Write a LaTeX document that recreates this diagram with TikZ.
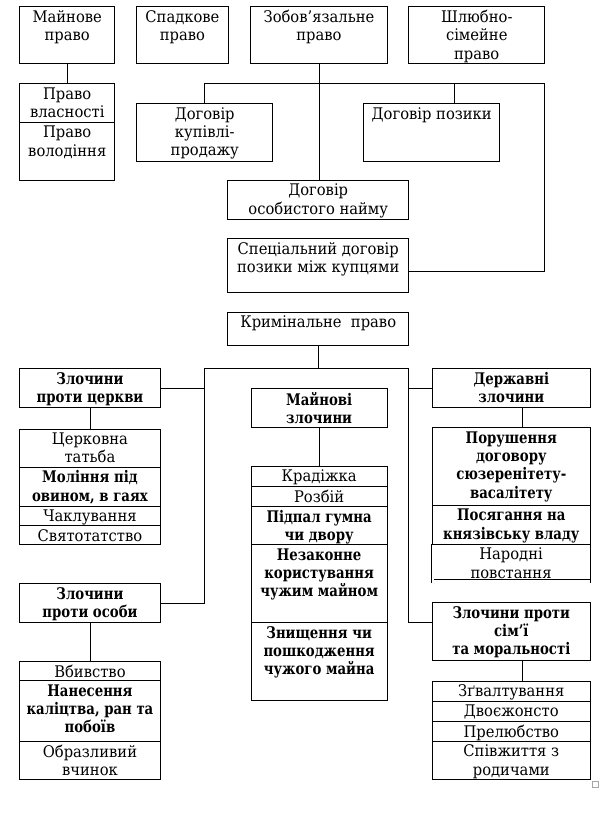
\documentclass[tikz,border=0pt]{standalone}
\usepackage{fontspec}
\setmainfont{DejaVu Serif}[FakeStretch=0.92,BoldFeatures={FakeStretch=0.83}]
\begin{document}
\begin{tikzpicture}[x=1pt,y=-1pt,
  bxs/.style={draw,line width=0.9pt,inner sep=0pt,anchor=north west},
  txt/.style={inner sep=0pt,anchor=north,align=center,font=\fontsize{16}{18.3}\selectfont},
  btxt/.style={txt,font=\fontsize{16}{18.3}\selectfont\bfseries},
  ln/.style={line width=0.9pt}]
\useasboundingbox (0,0) rectangle (604,831);
\newcommand\bx[7][txt]{%
  \node[bxs,minimum width={#5-#3},minimum height={#6-#4}] (#2) at (#3,#4) {};
  \node[#1] at ([yshift=-4pt]#2.north) {#7};}
% civil law
\bx{m}{19.3}{6}{114.3}{63}{Майнове\\право}
\bx{s}{136.3}{6}{227.7}{63}{Спадкове\\право}
\bx{z}{250.3}{6}{386.7}{63}{Зобов’язальне\\право}
\bx{sh}{408.3}{6}{544.3}{63}{Шлюбно-\\сімейне\\право}
\bx{pv}{19.3}{83.3}{114.3}{122}{Право\\власності}
\bx{pw}{19.3}{122}{114.3}{180.3}{Право\\володіння}
\bx{kup}{136.3}{103.3}{272.3}{161.3}{Договір\\купівлі-\\продажу}
\bx{poz}{363.3}{103.3}{499.3}{161.3}{Договір позики}
\bx{on}{227.3}{180}{408.3}{219.3}{Договір\\особистого найму}
\bx{sp}{227.3}{238.3}{408.3}{292.3}{Спеціальний договір\\позики між купцями}
\bx{kr}{227.3}{311.7}{408.3}{345}{Кримінальне\ \ право}
% church
\bx[btxt]{zc}{19.3}{368.3}{159.7}{407.3}{Злочини\\проти церкви}
\bx{c1}{19.3}{428.5}{159.7}{466.5}{Церковна\\татьба}
\bx[btxt]{c2}{19.3}{466.5}{159.7}{506}{Моління під\\овином, в гаях}
\bx{c3}{19.3}{506}{159.7}{525}{Чаклування}
\bx{c4}{19.3}{525}{159.7}{544.3}{Святотатство}
% property
\bx[btxt]{mz}{250.7}{388.3}{386.7}{427.3}{Майнові\\злочини}
\bx{p1}{250.7}{466}{386.7}{485.7}{Крадіжка}
\bx{p2}{250.7}{485.7}{386.7}{505.7}{Розбій}
\bx[btxt]{p3}{250.7}{505.7}{386.7}{544.3}{Підпал гумна\\чи двору}
\bx[btxt]{p4}{250.7}{544.3}{386.7}{622.3}{Незаконне\\користування\\чужим майном}
\bx[btxt]{p5}{250.7}{622.3}{386.7}{700}{Знищення чи\\пошкодження\\чужого майна}
% state
\bx[btxt]{dz}{431.7}{368.3}{590}{407.3}{Державні\\злочини}
\bx[btxt]{d1}{431.7}{427.3}{590}{505}{Порушення\\договору\\сюзеренітету-\\васалітету}
\bx[btxt]{d2}{431.7}{505}{590}{544}{Посягання на\\князівську владу}
\node[inner sep=0pt,anchor=north west,minimum width={590-431.7},minimum height={579.3-544}] (d3) at (431.7,544) {};
\node[txt] at ([yshift=-4pt]d3.north) {Народні\\повстання};
\draw[ln] (d3.north west) -- ++(0,38.7);
\draw[ln] (d3.north east) -- ++(0,38.7);
\draw[ln] ([xshift=2.5pt]d3.south west) -- ([xshift=0.7pt]d3.south east);
% family
\bx[btxt]{zs}{431.7}{602.3}{590}{660}{Злочини проти\\сім'ї\\та моральності}
\bx{f1}{431.7}{680.7}{590}{700.7}{Зґвалтування}
\bx{f2}{431.7}{700.7}{590}{720.7}{Двоєжонсто}
\bx{f3}{431.7}{720.7}{590}{740.7}{Прелюбство}
\bx{f4}{431.7}{740.7}{590}{779}{Співжиття з\\родичами}
% person
\bx[btxt]{zo}{19.3}{583.3}{159.7}{622}{Злочини\\проти особи}
\bx{o1}{19.3}{660.7}{159.7}{680.3}{Вбивство}
\bx[btxt]{o2}{19.3}{680.3}{159.7}{740.7}{Нанесення\\каліцтва, ран та\\побоїв}
\bx{o3}{19.3}{740.7}{159.7}{779}{Образливий\\вчинок}
% small anchor square
\node[draw=gray!70,line width=0.5pt,inner sep=0pt,minimum size=6.5pt,anchor=north west] (sq) at (591.7,780.7) {};
% connectors civil
\draw[ln] (m.south) -- (pv.north);
\draw[ln] (z.south) -- (z.south |- on.north);
\coordinate (jr) at (544.3,83.3);
\coordinate (jb) at (544.3,271.7);
\coordinate (jp) at (454.3,83.3);
\draw[ln] (kup.north) |- (jr) -- (jb) -- (sp.east |- jb);
\draw[ln] (jp) -- (jp |- poz.north);
% connectors criminal
\coordinate (jl) at (204.3,368.3);
\coordinate (jrr) at (408.3,368.3);
\coordinate (jsb) at (408.3,622.3);
\draw[ln] (kr.south) -- (kr.south |- jl);
\draw[ln] (zo.east) -| (jl) -- (jrr) -- (jsb) -- (jsb -| zs.west);
\draw[ln] (zc.east) -- (zc.east -| jl);
\draw[ln] (dz.west) -- (dz.west -| jrr);
\draw[ln] (zc.south) -- (c1.north);
\draw[ln] (mz.south) -- (p1.north);
\draw[ln] ([xshift=11.45pt]dz.south) -- ([xshift=11.45pt]d1.north);
\draw[ln] ([xshift=11.45pt]zs.south) -- ([xshift=11.45pt]f1.north);
\draw[ln] (zo.south) -- (o1.north);
\end{tikzpicture}
\end{document}
